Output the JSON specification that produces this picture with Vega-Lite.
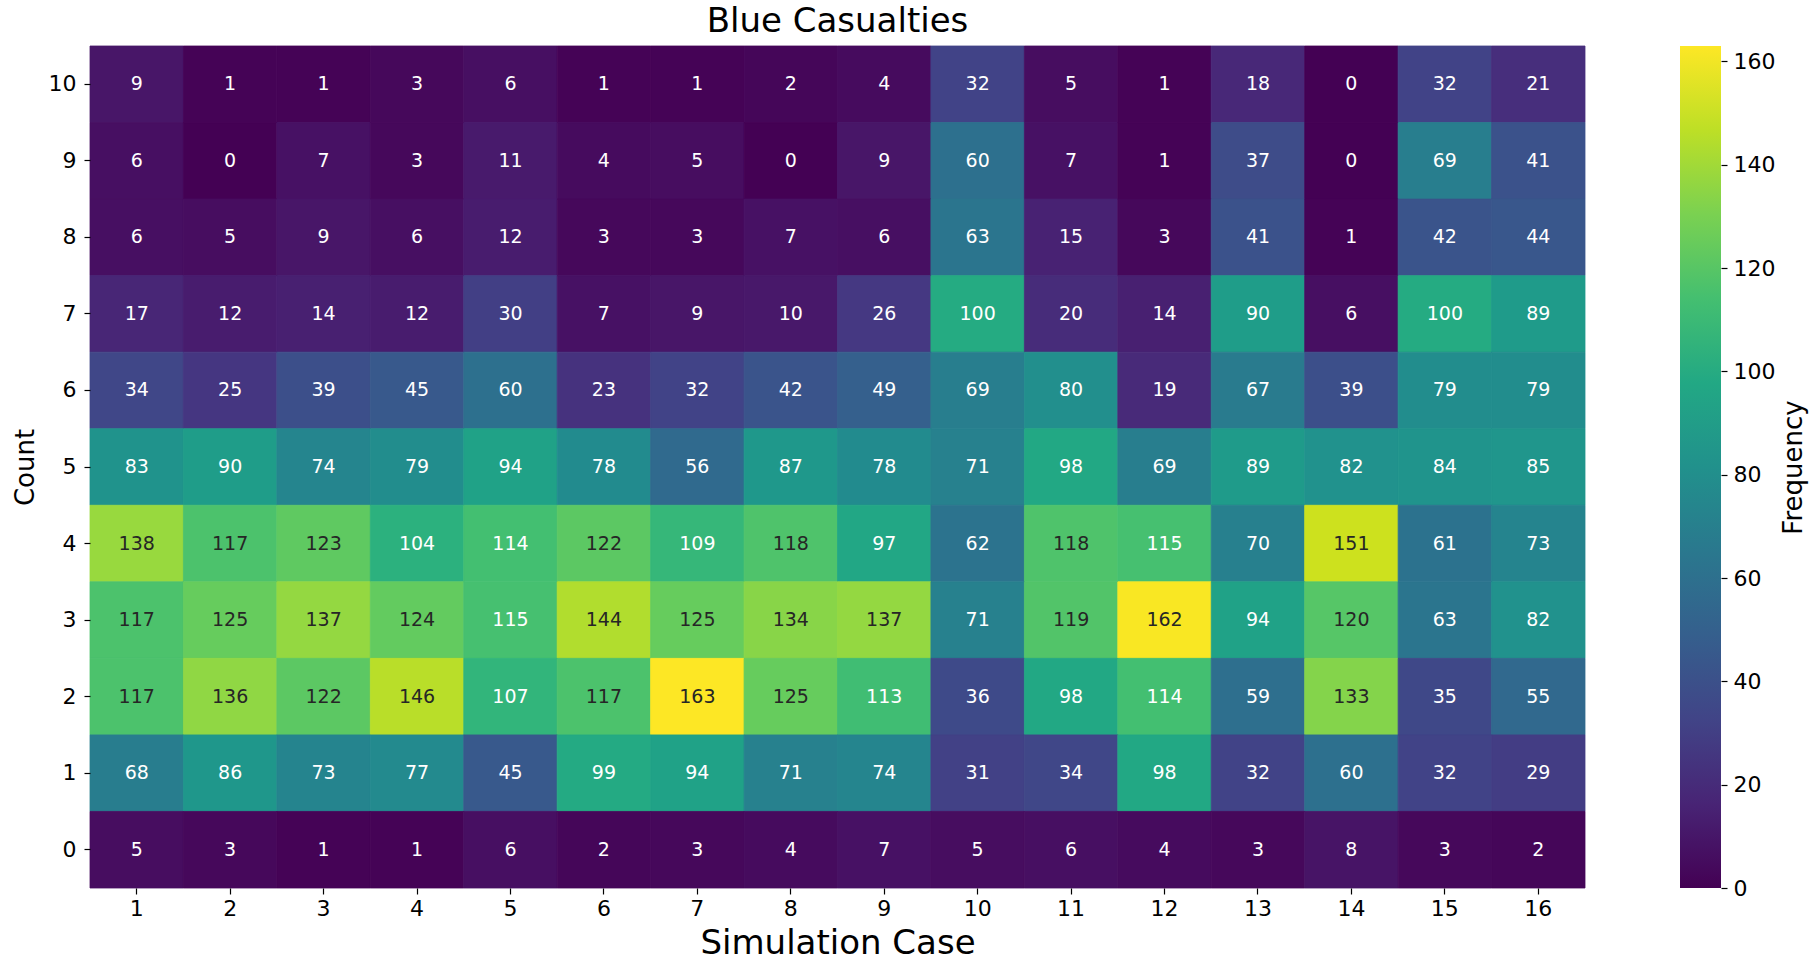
{
  "$schema": "https://vega.github.io/schema/vega-lite/v6.json",
  "padding": {"left": 12, "top": 4, "right": 5, "bottom": 5},
  "background": "white",
  "config": {
    "font": "DejaVu Sans",
    "view": {"stroke": null},
    "axis": {
      "labelFont": "DejaVu Sans",
      "titleFont": "DejaVu Sans",
      "labelColor": "black",
      "titleColor": "black",
      "tickColor": "black",
      "domain": false,
      "grid": false,
      "tickSize": 6,
      "tickWidth": 1.2,
      "labelFontSize": 22,
      "titleFontWeight": "normal"
    }
  },
  "spacing": 94,
  "data": {
    "values": [
      {"case": 1, "count": 10, "v": 9}, {"case": 2, "count": 10, "v": 1}, {"case": 3, "count": 10, "v": 1}, {"case": 4, "count": 10, "v": 3}, {"case": 5, "count": 10, "v": 6}, {"case": 6, "count": 10, "v": 1}, {"case": 7, "count": 10, "v": 1}, {"case": 8, "count": 10, "v": 2}, {"case": 9, "count": 10, "v": 4}, {"case": 10, "count": 10, "v": 32}, {"case": 11, "count": 10, "v": 5}, {"case": 12, "count": 10, "v": 1}, {"case": 13, "count": 10, "v": 18}, {"case": 14, "count": 10, "v": 0}, {"case": 15, "count": 10, "v": 32}, {"case": 16, "count": 10, "v": 21},
      {"case": 1, "count": 9, "v": 6}, {"case": 2, "count": 9, "v": 0}, {"case": 3, "count": 9, "v": 7}, {"case": 4, "count": 9, "v": 3}, {"case": 5, "count": 9, "v": 11}, {"case": 6, "count": 9, "v": 4}, {"case": 7, "count": 9, "v": 5}, {"case": 8, "count": 9, "v": 0}, {"case": 9, "count": 9, "v": 9}, {"case": 10, "count": 9, "v": 60}, {"case": 11, "count": 9, "v": 7}, {"case": 12, "count": 9, "v": 1}, {"case": 13, "count": 9, "v": 37}, {"case": 14, "count": 9, "v": 0}, {"case": 15, "count": 9, "v": 69}, {"case": 16, "count": 9, "v": 41},
      {"case": 1, "count": 8, "v": 6}, {"case": 2, "count": 8, "v": 5}, {"case": 3, "count": 8, "v": 9}, {"case": 4, "count": 8, "v": 6}, {"case": 5, "count": 8, "v": 12}, {"case": 6, "count": 8, "v": 3}, {"case": 7, "count": 8, "v": 3}, {"case": 8, "count": 8, "v": 7}, {"case": 9, "count": 8, "v": 6}, {"case": 10, "count": 8, "v": 63}, {"case": 11, "count": 8, "v": 15}, {"case": 12, "count": 8, "v": 3}, {"case": 13, "count": 8, "v": 41}, {"case": 14, "count": 8, "v": 1}, {"case": 15, "count": 8, "v": 42}, {"case": 16, "count": 8, "v": 44},
      {"case": 1, "count": 7, "v": 17}, {"case": 2, "count": 7, "v": 12}, {"case": 3, "count": 7, "v": 14}, {"case": 4, "count": 7, "v": 12}, {"case": 5, "count": 7, "v": 30}, {"case": 6, "count": 7, "v": 7}, {"case": 7, "count": 7, "v": 9}, {"case": 8, "count": 7, "v": 10}, {"case": 9, "count": 7, "v": 26}, {"case": 10, "count": 7, "v": 100}, {"case": 11, "count": 7, "v": 20}, {"case": 12, "count": 7, "v": 14}, {"case": 13, "count": 7, "v": 90}, {"case": 14, "count": 7, "v": 6}, {"case": 15, "count": 7, "v": 100}, {"case": 16, "count": 7, "v": 89},
      {"case": 1, "count": 6, "v": 34}, {"case": 2, "count": 6, "v": 25}, {"case": 3, "count": 6, "v": 39}, {"case": 4, "count": 6, "v": 45}, {"case": 5, "count": 6, "v": 60}, {"case": 6, "count": 6, "v": 23}, {"case": 7, "count": 6, "v": 32}, {"case": 8, "count": 6, "v": 42}, {"case": 9, "count": 6, "v": 49}, {"case": 10, "count": 6, "v": 69}, {"case": 11, "count": 6, "v": 80}, {"case": 12, "count": 6, "v": 19}, {"case": 13, "count": 6, "v": 67}, {"case": 14, "count": 6, "v": 39}, {"case": 15, "count": 6, "v": 79}, {"case": 16, "count": 6, "v": 79},
      {"case": 1, "count": 5, "v": 83}, {"case": 2, "count": 5, "v": 90}, {"case": 3, "count": 5, "v": 74}, {"case": 4, "count": 5, "v": 79}, {"case": 5, "count": 5, "v": 94}, {"case": 6, "count": 5, "v": 78}, {"case": 7, "count": 5, "v": 56}, {"case": 8, "count": 5, "v": 87}, {"case": 9, "count": 5, "v": 78}, {"case": 10, "count": 5, "v": 71}, {"case": 11, "count": 5, "v": 98}, {"case": 12, "count": 5, "v": 69}, {"case": 13, "count": 5, "v": 89}, {"case": 14, "count": 5, "v": 82}, {"case": 15, "count": 5, "v": 84}, {"case": 16, "count": 5, "v": 85},
      {"case": 1, "count": 4, "v": 138}, {"case": 2, "count": 4, "v": 117}, {"case": 3, "count": 4, "v": 123}, {"case": 4, "count": 4, "v": 104}, {"case": 5, "count": 4, "v": 114}, {"case": 6, "count": 4, "v": 122}, {"case": 7, "count": 4, "v": 109}, {"case": 8, "count": 4, "v": 118}, {"case": 9, "count": 4, "v": 97}, {"case": 10, "count": 4, "v": 62}, {"case": 11, "count": 4, "v": 118}, {"case": 12, "count": 4, "v": 115}, {"case": 13, "count": 4, "v": 70}, {"case": 14, "count": 4, "v": 151}, {"case": 15, "count": 4, "v": 61}, {"case": 16, "count": 4, "v": 73},
      {"case": 1, "count": 3, "v": 117}, {"case": 2, "count": 3, "v": 125}, {"case": 3, "count": 3, "v": 137}, {"case": 4, "count": 3, "v": 124}, {"case": 5, "count": 3, "v": 115}, {"case": 6, "count": 3, "v": 144}, {"case": 7, "count": 3, "v": 125}, {"case": 8, "count": 3, "v": 134}, {"case": 9, "count": 3, "v": 137}, {"case": 10, "count": 3, "v": 71}, {"case": 11, "count": 3, "v": 119}, {"case": 12, "count": 3, "v": 162}, {"case": 13, "count": 3, "v": 94}, {"case": 14, "count": 3, "v": 120}, {"case": 15, "count": 3, "v": 63}, {"case": 16, "count": 3, "v": 82},
      {"case": 1, "count": 2, "v": 117}, {"case": 2, "count": 2, "v": 136}, {"case": 3, "count": 2, "v": 122}, {"case": 4, "count": 2, "v": 146}, {"case": 5, "count": 2, "v": 107}, {"case": 6, "count": 2, "v": 117}, {"case": 7, "count": 2, "v": 163}, {"case": 8, "count": 2, "v": 125}, {"case": 9, "count": 2, "v": 113}, {"case": 10, "count": 2, "v": 36}, {"case": 11, "count": 2, "v": 98}, {"case": 12, "count": 2, "v": 114}, {"case": 13, "count": 2, "v": 59}, {"case": 14, "count": 2, "v": 133}, {"case": 15, "count": 2, "v": 35}, {"case": 16, "count": 2, "v": 55},
      {"case": 1, "count": 1, "v": 68}, {"case": 2, "count": 1, "v": 86}, {"case": 3, "count": 1, "v": 73}, {"case": 4, "count": 1, "v": 77}, {"case": 5, "count": 1, "v": 45}, {"case": 6, "count": 1, "v": 99}, {"case": 7, "count": 1, "v": 94}, {"case": 8, "count": 1, "v": 71}, {"case": 9, "count": 1, "v": 74}, {"case": 10, "count": 1, "v": 31}, {"case": 11, "count": 1, "v": 34}, {"case": 12, "count": 1, "v": 98}, {"case": 13, "count": 1, "v": 32}, {"case": 14, "count": 1, "v": 60}, {"case": 15, "count": 1, "v": 32}, {"case": 16, "count": 1, "v": 29},
      {"case": 1, "count": 0, "v": 5}, {"case": 2, "count": 0, "v": 3}, {"case": 3, "count": 0, "v": 1}, {"case": 4, "count": 0, "v": 1}, {"case": 5, "count": 0, "v": 6}, {"case": 6, "count": 0, "v": 2}, {"case": 7, "count": 0, "v": 3}, {"case": 8, "count": 0, "v": 4}, {"case": 9, "count": 0, "v": 7}, {"case": 10, "count": 0, "v": 5}, {"case": 11, "count": 0, "v": 6}, {"case": 12, "count": 0, "v": 4}, {"case": 13, "count": 0, "v": 3}, {"case": 14, "count": 0, "v": 8}, {"case": 15, "count": 0, "v": 3}, {"case": 16, "count": 0, "v": 2}
    ]
  },
  "hconcat": [
    {
      "width": 1495,
      "height": 842,
      "title": {"text": "Blue Casualties", "fontSize": 34, "fontWeight": "normal", "color": "black", "font": "DejaVu Sans", "offset": 7},
      "encoding": {
        "x": {
          "field": "case", "type": "ordinal", "sort": "ascending",
          "scale": {"paddingInner": 0, "paddingOuter": 0},
          "axis": {"title": "Simulation Case", "titleFontSize": 34, "labelAngle": 0, "labelPadding": 4, "titlePadding": 7}
        },
        "y": {
          "field": "count", "type": "ordinal", "sort": "descending",
          "scale": {"paddingInner": 0, "paddingOuter": 0},
          "axis": {"title": "Count", "titleFontSize": 26, "labelPadding": 8, "titlePadding": 10}
        }
      },
      "layer": [
        {
          "mark": {"type": "rect", "strokeWidth": 0.8},
          "encoding": {
            "color": {"field": "v", "type": "quantitative", "scale": {"scheme": "viridis", "domain": [0, 163]}, "legend": null},
            "stroke": {"field": "v", "type": "quantitative", "scale": {"scheme": "viridis", "domain": [0, 163]}, "legend": null}
          }
        },
        {
          "mark": {"type": "text", "fontSize": 19, "font": "DejaVu Sans", "baseline": "middle", "align": "center"},
          "encoding": {
            "text": {"field": "v", "type": "quantitative"},
            "color": {"condition": {"test": "datum.v >= 116", "value": "#262626"}, "value": "#ffffff"}
          }
        }
      ]
    },
    {
      "width": 41,
      "height": 842,
      "data": {"values": [{"lo": 0, "hi": 163}]},
      "mark": {
        "type": "rect",
        "color": {
          "gradient": "linear", "x1": 0, "y1": 1, "x2": 0, "y2": 0,
          "stops": [
            {"offset": 0.0, "color": "#440154"},
            {"offset": 0.1, "color": "#482475"},
            {"offset": 0.2, "color": "#414487"},
            {"offset": 0.3, "color": "#355f8d"},
            {"offset": 0.4, "color": "#2a788e"},
            {"offset": 0.5, "color": "#21918c"},
            {"offset": 0.6, "color": "#22a884"},
            {"offset": 0.7, "color": "#44bf70"},
            {"offset": 0.8, "color": "#7ad151"},
            {"offset": 0.9, "color": "#bddf26"},
            {"offset": 1.0, "color": "#fde725"}
          ]
        }
      },
      "encoding": {
        "y": {
          "field": "lo", "type": "quantitative",
          "scale": {"domain": [0, 163], "nice": false, "zero": false},
          "axis": {"orient": "right", "title": "Frequency", "titleFontSize": 26, "titleAngle": -90, "titleBaseline": "top", "values": [0, 20, 40, 60, 80, 100, 120, 140, 160], "labelPadding": 6, "titlePadding": 6}
        },
        "y2": {"field": "hi"}
      }
    }
  ]
}
